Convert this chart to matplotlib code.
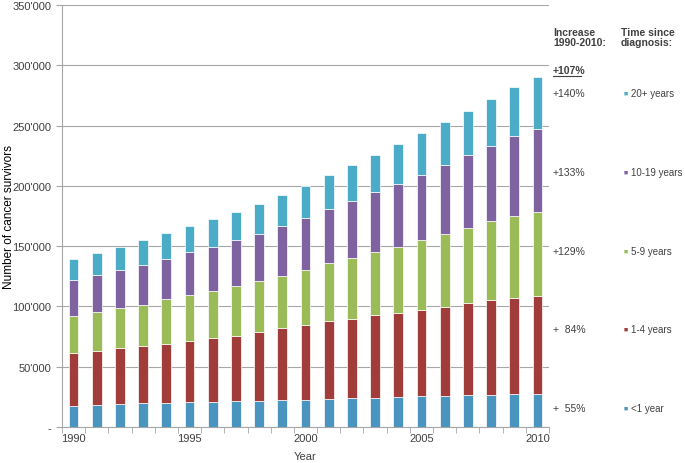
import matplotlib
matplotlib.use("Agg")
import matplotlib.pyplot as plt
import numpy as np
from matplotlib.lines import Line2D
from matplotlib.ticker import FuncFormatter, MultipleLocator

plt.rcParams["font.family"] = ["Liberation Sans", "DejaVu Sans"]

years = list(range(1990, 2011))

# segment sizes (number of survivors) per time since diagnosis
lt1 = [17800, 18600, 19400, 19600, 20300, 20500, 20600, 21700, 21800, 22000, 22700,
       23300, 24200, 24300, 25000, 25300, 25900, 26700, 26900, 27500, 27700]
y1_4 = [43500, 44400, 45900, 47900, 48900, 51200, 53200, 54100, 57100, 59700, 61700,
        64700, 65500, 68200, 69700, 71900, 73800, 76300, 78100, 79700, 80600]
y5_9 = [30900, 32000, 33000, 33800, 36600, 37500, 38700, 40900, 41900, 43300, 45600,
        47800, 50300, 52500, 55000, 57800, 60600, 62300, 65500, 67800, 70000]
y10_19 = [29500, 30800, 32200, 33400, 33900, 35800, 36700, 38300, 39500, 41700, 43000,
          44700, 47500, 49700, 51600, 54200, 56900, 60200, 62500, 66100, 69200]
y20p = [17500, 18900, 19200, 20300, 21400, 21900, 23000, 23600, 25000, 25800, 27200,
        28700, 29700, 31100, 33100, 34400, 35600, 36700, 39200, 40800, 42800]

series = [lt1, y1_4, y5_9, y10_19, y20p]
labels = ["<1 year", "1-4 years", "5-9 years", "10-19 years", "20+ years"]
colors = ["#4a94c0", "#a03c3a", "#9bbb59", "#7f63a1", "#4aacc6"]
increases = ["+  55%", "+  84%", "+129%", "+133%", "+140%"]
total_increase = "+107%"

text_col = "#404040"
grid_col = "#a6a6a6"

fig = plt.figure(figsize=(6.85, 4.64), dpi=100)
ax = fig.add_axes([62 / 685, 36 / 464, 487 / 685, 422 / 464])

x = np.arange(len(years))
bottom = np.zeros(len(years))
for vals, col in zip(series, colors):
    ax.bar(x, vals, width=0.42, bottom=bottom, color=col,
           edgecolor="white", linewidth=0.5, zorder=3)
    bottom += np.array(vals)

ax.set_ylim(0, 350000)
ax.set_xlim(-0.45, len(years) - 0.55)
ax.yaxis.set_major_locator(MultipleLocator(50000))
ax.yaxis.set_major_formatter(FuncFormatter(
    lambda v, _: "-" if v == 0 else f"{int(v):,}".replace(",", "'")))
ax.grid(axis="y", color=grid_col, linewidth=0.8, zorder=0)

# category axis: tick marks at the boundaries, labels at the centres
ax.set_xticks(np.arange(-0.5, len(years), 1.0), minor=True)
ax.set_xticks([i for i, yr in enumerate(years) if yr % 5 == 0])
ax.set_xticklabels([str(yr) for yr in years if yr % 5 == 0])
ax.tick_params(axis="x", which="major", length=0, pad=4)
ax.tick_params(axis="x", which="minor", length=4, color=grid_col)
ax.tick_params(axis="y", length=4, color=grid_col)
ax.tick_params(labelsize=8, labelcolor=text_col)

for side in ["top", "right"]:
    ax.spines[side].set_visible(False)
for side in ["left", "bottom"]:
    ax.spines[side].set_color(grid_col)

ax.set_ylabel("Number of cancer survivors", fontsize=8.5, color="black")
ax.yaxis.set_label_coords(-0.097, 0.5)
ax.set_xlabel("Year", fontsize=8, color=text_col, labelpad=6)

# right-hand annotation column
def fx(px):
    return px / 685


def fy(py):
    return 1 - py / 464


fig.text(fx(553), fy(38), "Increase\n1990-2010:", fontsize=7.5, fontweight="bold",
         color=text_col, va="center", linespacing=1.1)
fig.text(fx(621), fy(38), "Time since\ndiagnosis:", fontsize=7.5, fontweight="bold",
         color=text_col, va="center", linespacing=1.1)
fig.text(fx(553), fy(71), total_increase, fontsize=7.5, fontweight="bold",
         color=text_col, va="center")
fig.add_artist(Line2D([fx(553), fx(581)], [fy(77), fy(77)], color=text_col, lw=0.8))

rows_y = [409, 330, 252, 173, 94]
for lab, col, inc, py in zip(labels, colors, increases, rows_y):
    fig.text(fx(553), fy(py), inc, fontsize=7.5, color=text_col, va="center")
    fig.text(fx(624), fy(py), "■", fontsize=5, color=col, va="center")
    fig.text(fx(631), fy(py), lab, fontsize=7, color=text_col, va="center")

fig.savefig("out.png", dpi=100)
